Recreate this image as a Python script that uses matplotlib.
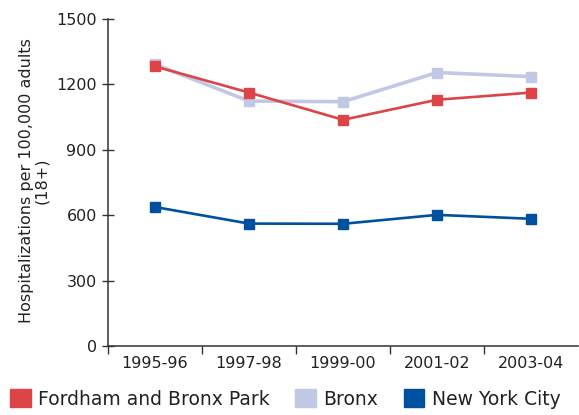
import matplotlib
matplotlib.use("Agg")
import matplotlib.pyplot as plt
from matplotlib.patches import Patch
from matplotlib.ticker import FixedLocator, NullFormatter

periods = ["1995-96", "1997-98", "1999-00", "2001-02", "2003-04"]
fordham = [1283, 1163, 1038, 1130, 1163]
bronx = [1292, 1124, 1121, 1255, 1236]
nyc = [638, 562, 561, 602, 584]

RED = "#dc4448"
LIGHT = "#c0c8e4"
BLUE = "#0050a0"
INK = "#222222"

plt.rcParams["font.family"] = "DejaVu Sans"

fig = plt.figure(figsize=(5.79, 4.15), dpi=100)
ax = fig.add_axes([0.1865, 0.166, 0.812, 0.788])

x = list(range(len(periods)))
ax.plot(x, bronx, color=LIGHT, lw=2.6, marker="s", ms=6.5, zorder=2)
ax.plot(x, fordham, color=RED, lw=1.9, marker="s", ms=6.5, zorder=3)
ax.plot(x, nyc, color=BLUE, lw=1.9, marker="s", ms=6.5, zorder=4)

ax.set_xlim(-0.5, 4.5)
ax.set_ylim(0, 1500)
ax.set_yticks([0, 300, 600, 900, 1200, 1500])
ax.set_xticks(x)
ax.set_xticklabels(periods)
ax.tick_params(axis="x", which="major", length=0, pad=7, labelsize=11.5, colors=INK)
# boundary ticks between periods
ax.xaxis.set_minor_locator(FixedLocator([i + 0.5 for i in range(-1, 4)]))
ax.xaxis.set_minor_formatter(NullFormatter())
ax.tick_params(axis="x", which="minor", length=6, width=1, direction="out", color="#333333")
ax.tick_params(axis="y", length=8, width=1, direction="inout", pad=4, labelsize=11.5, colors=INK)
ax.tick_params(axis="y", color="#333333")

for side in ["top", "right"]:
    ax.spines[side].set_visible(False)
for side in ["left", "bottom"]:
    ax.spines[side].set_color("#333333")
    ax.spines[side].set_linewidth(1.1)

ax.set_ylabel("Hospitalizations per 100,000 adults\n(18+)", fontsize=11.5, color=INK,
              linespacing=1.0)
ax.yaxis.set_label_coords(-0.126, 0.505)

handles = [Patch(color=RED, label="Fordham and Bronx Park"),
           Patch(color=LIGHT, label="Bronx"),
           Patch(color=BLUE, label="New York City")]
leg = fig.legend(handles=handles, loc="lower left", bbox_to_anchor=(-0.002, -0.012), ncol=3,
                 frameon=False, fontsize=13.5, handlelength=1.1, handleheight=1.1,
                 handletextpad=0.4, columnspacing=1.35, borderaxespad=0.2)
for t in leg.get_texts():
    t.set_color(INK)

fig.savefig("out.png", dpi=100)
